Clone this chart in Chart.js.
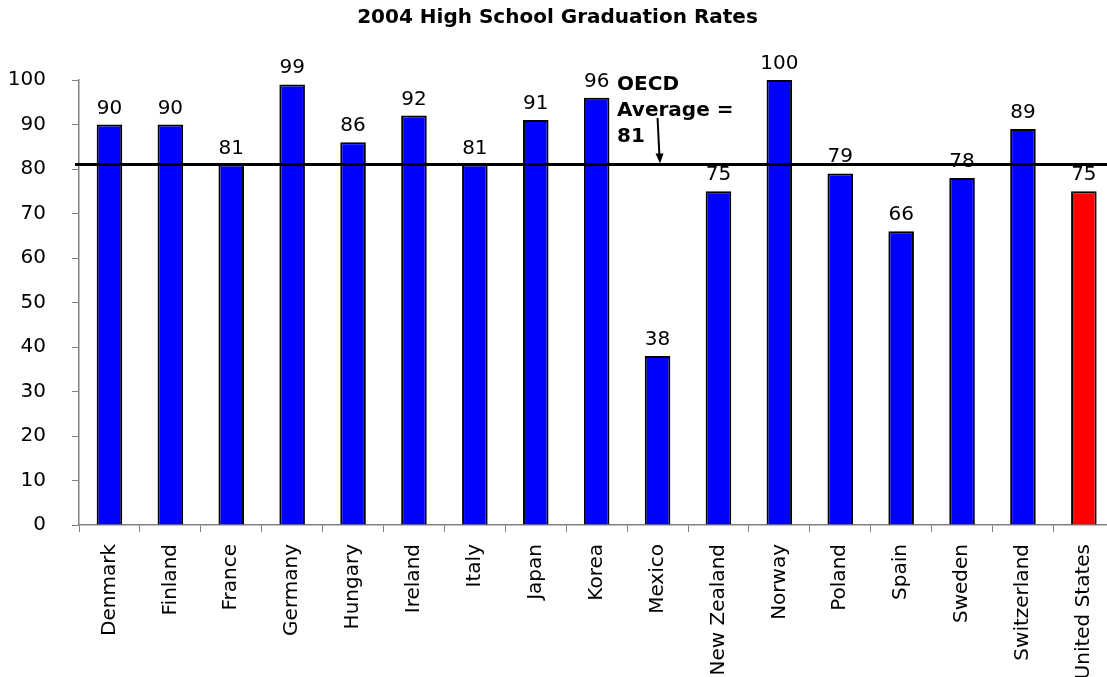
<!DOCTYPE html>
<html lang="en">
<head>
    <meta charset="UTF-8" />
    <title>2004 High School Graduation Rates</title>
    <script src="https://cdn.jsdelivr.net/npm/chart.js"></script>
    <style>
        html, body { margin: 0; padding: 0; background: #fff; overflow: hidden; }
        #wrap { width: 1120px; height: 677px; }
    </style>
</head>
<body>
    <div id="wrap"><canvas id="gradChart" width="1120" height="677"></canvas></div>

    <script>
        // Graduation rates by country, 2004
        const countries = ['Denmark', 'Finland', 'France', 'Germany', 'Hungary', 'Ireland', 'Italy', 'Japan',
            'Korea', 'Mexico', 'New Zealand', 'Norway', 'Poland', 'Spain', 'Sweden', 'Switzerland', 'United States'];
        const rates = [90, 90, 81, 99, 86, 92, 81, 91, 96, 38, 75, 100, 79, 66, 78, 89, 75];
        const barColors = countries.map(c => c === 'United States' ? '#ff0000' : '#0000ff');
        const oecdAverage = 81;
        const oecdNote = ['OECD', 'Average =', String(oecdAverage)];
        const yTicks = [0, 10, 20, 30, 40, 50, 60, 70, 80, 90, 100];

        const FONT = 'Verdana, "DejaVu Sans", sans-serif';

        // value labels on top of each bar
        const valueLabels = {
            id: 'valueLabels',
            afterDatasetsDraw(chart) {
                const ctx = chart.ctx;
                const meta = chart.getDatasetMeta(0);
                ctx.save();
                ctx.font = '20px ' + FONT;
                ctx.fillStyle = '#000';
                ctx.textAlign = 'center';
                ctx.textBaseline = 'alphabetic';
                meta.data.forEach((bar, i) => {
                    ctx.fillText(String(rates[i]), bar.x, bar.y - 11);
                });
                ctx.restore();
            }
        };

        // OECD average line, note and arrow
        const averageLine = {
            id: 'averageLine',
            afterDatasetsDraw(chart) {
                const ctx = chart.ctx;
                const y = chart.scales.y.getPixelForValue(oecdAverage);
                const x = chart.scales.x;
                ctx.save();
                ctx.strokeStyle = '#000';
                ctx.lineWidth = 3;
                ctx.beginPath();
                ctx.moveTo(chart.chartArea.left - 4, y);
                ctx.lineTo(chart.width, y);
                ctx.stroke();

                const textX = (x.getPixelForValue(8) + x.getPixelForValue(9)) / 2 - 10;
                ctx.font = 'bold 20px ' + FONT;
                ctx.fillStyle = '#000';
                ctx.textAlign = 'left';
                ctx.textBaseline = 'middle';
                oecdNote.forEach((line, i) => ctx.fillText(line, textX, 85 + i * 26));

                // arrow down to the line
                const ax = x.getPixelForValue(9) + 2;
                ctx.lineWidth = 2;
                ctx.beginPath();
                ctx.moveTo(ax - 2, 118);
                ctx.lineTo(ax, y - 6);
                ctx.stroke();
                ctx.beginPath();
                ctx.moveTo(ax - 4, y - 11);
                ctx.lineTo(ax + 4, y - 11);
                ctx.lineTo(ax + 0.5, y - 1);
                ctx.closePath();
                ctx.fill();
                ctx.restore();
            }
        };

        new Chart(document.getElementById('gradChart'), {
            type: 'bar',
            data: {
                labels: countries,
                datasets: [{
                    data: rates,
                    backgroundColor: barColors,
                    borderColor: '#000',
                    borderWidth: 2,
                    barPercentage: 0.42,
                    categoryPercentage: 1
                }]
            },
            options: {
                responsive: false,
                animation: false,
                layout: { padding: { left: 0, right: 5, top: 0, bottom: 0 } },
                plugins: {
                    legend: { display: false },
                    tooltip: { enabled: false },
                    title: {
                        display: true,
                        text: '2004 High School Graduation Rates',
                        color: '#000',
                        font: { family: FONT, size: 20, weight: 'bold' },
                        padding: { top: 6, bottom: 50 }
                    }
                },
                scales: {
                    x: {
                        afterFit(scale) { scale.height = 152; },
                        grid: { offset: true, drawOnChartArea: false, tickLength: 7, color: '#808080' },
                        border: { color: '#808080', width: 1.5 },
                        ticks: {
                            color: '#000',
                            minRotation: 90,
                            maxRotation: 90,
                            padding: 12,
                            font: { family: FONT, size: 20 }
                        }
                    },
                    y: {
                        min: 0,
                        max: 100,
                        afterFit(scale) { scale.width = 79; },
                        afterBuildTicks(scale) { scale.ticks = yTicks.map(v => ({ value: v })); },
                        grid: { drawOnChartArea: false, tickLength: 7, color: '#808080' },
                        border: { color: '#808080', width: 1.5 },
                        ticks: {
                            color: '#000',
                            padding: 26,
                            font: { family: FONT, size: 20 }
                        }
                    }
                }
            },
            plugins: [valueLabels, averageLine]
        });
    </script>
</body>
</html>
